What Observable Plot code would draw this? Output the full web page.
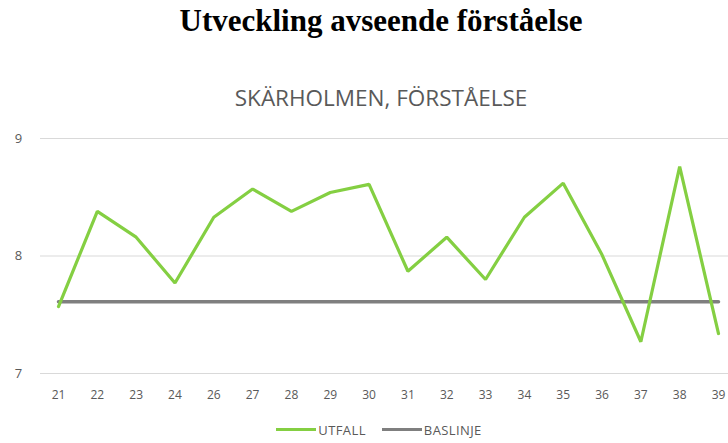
<!DOCTYPE html>
<html>
<head>
<meta charset="utf-8">
<script src="https://cdn.jsdelivr.net/npm/d3@7"></script>
<script src="https://cdn.jsdelivr.net/npm/@observablehq/plot@0.6"></script>
<style>
  html, body { margin: 0; padding: 0; background: #fff; width: 728px; height: 443px; overflow: hidden; }
  #title { height: 58px; text-align: center; font-family: "Liberation Serif", "Times New Roman", serif; font-weight: bold; font-size: 31px; line-height: 42px; color: #000; box-sizing: border-box; padding-left: 34px; }
  #subtitle { height: 62px; text-align: center; font-family: "Open Sans", sans-serif; font-size: 22.5px; line-height: 24px; color: #595959; box-sizing: border-box; padding-top: 28px; padding-left: 34px; }
  #chart { height: 290px; }
  #legend { height: 33px; display: flex; justify-content: center; align-items: center; gap: 16px; font-family: "Open Sans", sans-serif; font-size: 13px; letter-spacing: 0.4px; color: #595959; padding-top: 6px; box-sizing: border-box; padding-left: 30px; }
  .item { display: flex; align-items: center; gap: 2px; }
  .swatch { width: 40px; height: 3px; display: inline-block; }
</style>
</head>
<body>
<div id="title">Utveckling avseende förståelse</div>
<div id="subtitle">SKÄRHOLMEN, FÖRSTÅELSE</div>
<div id="chart"></div>
<div id="legend"></div>
<script>
const weeks = ["21","22","23","24","26","27","28","29","30","31","32","33","34","35","36","37","38","39"];
const utfall = [7.57, 8.38, 8.16, 7.77, 8.33, 8.57, 8.38, 8.54, 8.61, 7.87, 8.16, 7.80, 8.33, 8.62, 8.01, 7.27, 8.76, 7.34];
const baslinje = [7.61, 7.61, 7.61, 7.61, 7.61, 7.61, 7.61, 7.61, 7.61, 7.61, 7.61, 7.61, 7.61, 7.61, 7.61, 7.61, 7.61, 7.61];
const yTicks = [7, 8, 9];
const seriesNames = ["UTFALL", "BASLINJE"];
const seriesColors = ["#84cf42", "#7f7f7f"];

const rows = weeks.map((w, i) => ({week: w, utfall: utfall[i], baslinje: baslinje[i]}));

const chart = Plot.plot({
  width: 728,
  height: 290,
  marginLeft: 40,
  marginRight: 0,
  marginTop: 18,
  marginBottom: 37,
  style: {fontFamily: "'Open Sans', sans-serif", fontSize: "12px", color: "#595959", background: "#fff"},
  x: {type: "point", domain: weeks, range: [58, 718], padding: 0, round: false, label: null},
  y: {domain: [7, 9], label: null},
  marks: [
    Plot.gridY(yTicks, {stroke: "#d9d9d9", strokeOpacity: 1, strokeWidth: 1}),
    Plot.axisY(yTicks, {tickSize: 0, tickPadding: 0, dx: -22, textAnchor: "middle", fontSize: 13, fill: "#595959", tickFormat: d3.format("d")}),
    Plot.axisX({tickSize: 0, tickPadding: 17, fontSize: 12, fill: "#595959"}),
    Plot.line(rows, {x: "week", y: "baslinje", stroke: seriesColors[1], strokeWidth: 3.5}),
    Plot.line(rows, {x: "week", y: "utfall", stroke: seriesColors[0], strokeWidth: 3.2, strokeLinejoin: "miter"})
  ]
});
document.getElementById("chart").appendChild(chart);

const legend = document.getElementById("legend");
seriesNames.forEach((n, i) => {
  const it = document.createElement("span");
  it.className = "item";
  const sw = document.createElement("span");
  sw.className = "swatch";
  sw.style.background = seriesColors[i];
  it.appendChild(sw);
  it.appendChild(document.createTextNode(n));
  legend.appendChild(it);
});
</script>
</body>
</html>
